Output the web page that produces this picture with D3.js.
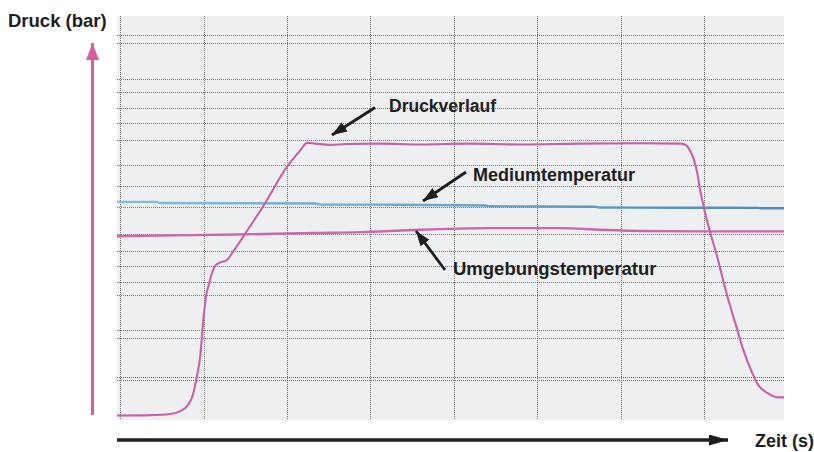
<!DOCTYPE html>
<html>
<head>
<meta charset="utf-8">
<script src="https://cdn.jsdelivr.net/npm/d3@7"></script>
<style>
  body { margin: 0; background: #fff; }
  svg { display: block; }
  .label { font-family: "Liberation Sans", Arial, sans-serif; font-weight: bold; fill: #1e1e1e; }
</style>
</head>
<body>
<div id="chart"></div>
<script>
// time (s) and readings in arbitrary chart units (0..100 = bottom..top)
const druckT = [-0.04, 0.36, 0.60, 0.72, 0.81, 0.87, 0.91, 0.96, 0.99, 1.03, 1.06, 1.10, 1.14, 1.20, 1.28, 1.35, 1.50, 1.71, 2.00, 2.16, 2.24, 2.34, 2.52, 2.70, 3.11, 3.59, 4.19, 4.79, 5.51, 6.23, 6.71, 6.77, 6.83, 6.88, 6.92, 6.95, 7.00, 7.07, 7.15, 7.26, 7.40, 7.46, 7.58, 7.65, 7.76, 7.88, 7.96];
const druckV = [1.1, 1.2, 1.5, 2.2, 3.7, 6.2, 9.9, 16.1, 23.5, 30.9, 33.4, 36.4, 38.2, 39.0, 39.6, 41.6, 46.2, 52.8, 62.7, 66.8, 68.6, 68.4, 68.1, 68.3, 68.4, 68.2, 68.4, 68.2, 68.4, 68.5, 68.4, 68.2, 66.8, 64.4, 61.1, 57.4, 52.5, 46.8, 41.1, 32.2, 22.3, 18.1, 11.6, 8.7, 6.7, 5.6, 5.6];

const mediumT = [-0.04, 0.42, 0.48, 2.34, 2.42, 3.11, 4.37, 4.43, 5.69, 5.75, 7.65, 7.69, 7.96];
const mediumV = [54.0, 54.0, 53.7, 53.6, 53.3, 53.3, 53.1, 52.9, 52.8, 52.6, 52.5, 52.4, 52.4];

const umgebungT = [-0.04, 0.27, 1.38, 2.34, 2.88, 3.36, 3.59, 4.43, 5.27, 5.75, 6.23, 6.95, 7.96];
const umgebungV = [45.5, 45.6, 45.9, 46.3, 46.5, 46.9, 47.1, 47.5, 47.5, 47.1, 46.8, 46.7, 46.7];

const xGrid = [0, 1, 2, 3, 4, 5, 6, 7];
const yGrid = [95.3, 93.2, 84.5, 81.3, 77.2, 73.6, 69.4, 63.1, 57.8, 52.6, 46.0, 41.8, 38.0, 34.2, 30.9, 22.4, 20.2, 10.6, 9.9];

const yTitle = 'Druck (bar)';
const xTitle = 'Zeit (s)';

const WIDTH = 814;
const HEIGHT = 452;
const PLOT = { left: 117, right: 784, top: 16, bottom: 420 };

const x = d3.scaleLinear().domain([-0.04, 7.96]).range([PLOT.left, PLOT.right]);
const y = d3.scaleLinear().domain([0, 100]).range([PLOT.bottom, PLOT.top]);

const svg = d3.select('#chart').append('svg')
  .attr('width', WIDTH)
  .attr('height', HEIGHT);

const defs = svg.append('defs');
function marker(id, len, half, color) {
  defs.append('marker')
    .attr('id', id)
    .attr('markerUnits', 'userSpaceOnUse')
    .attr('markerWidth', len)
    .attr('markerHeight', half * 2)
    .attr('refX', len)
    .attr('refY', half)
    .attr('orient', 'auto')
    .append('path')
    .attr('d', `M0,0 L${len},${half} L0,${half * 2} Z`)
    .attr('fill', color);
}
marker('head-black', 15, 5.5, '#1e1e1e');
marker('head-axis', 19, 5.5, '#1e1e1e');
marker('head-pink', 17, 6.5, '#d6609f');

const grad = defs.append('linearGradient')
  .attr('id', 'blue-grad')
  .attr('gradientUnits', 'userSpaceOnUse')
  .attr('x1', PLOT.left).attr('x2', PLOT.right)
  .attr('y1', 0).attr('y2', 0);
grad.append('stop').attr('offset', 0).attr('stop-color', '#86bce2');
grad.append('stop').attr('offset', 1).attr('stop-color', '#4e8cbc');

// plot background
svg.append('rect')
  .attr('x', PLOT.left)
  .attr('y', PLOT.top)
  .attr('width', PLOT.right - PLOT.left)
  .attr('height', PLOT.bottom - PLOT.top)
  .attr('fill', '#eeeff0');

// grid
const grid = svg.append('g').attr('class', 'grid')
  .attr('stroke', '#767676')
  .attr('stroke-width', 1)
  .attr('stroke-dasharray', '1,1');
grid.selectAll('line.h')
  .data(yGrid)
  .enter().append('line')
  .attr('class', 'h')
  .attr('x1', PLOT.left).attr('x2', PLOT.right)
  .attr('y1', d => Math.round(y(d)) + 0.5)
  .attr('y2', d => Math.round(y(d)) + 0.5);
grid.selectAll('line.v')
  .data(xGrid)
  .enter().append('line')
  .attr('class', 'v')
  .attr('y1', PLOT.top).attr('y2', PLOT.bottom)
  .attr('x1', d => Math.round(x(d)) + 0.5)
  .attr('x2', d => Math.round(x(d)) + 0.5);

// curves
const line = d3.line()
  .x(d => x(d[0]))
  .y(d => y(d[1]))
  .curve(d3.curveMonotoneX);

const series = [
  { t: mediumT, v: mediumV, color: 'url(#blue-grad)', w: 2.4 },
  { t: umgebungT, v: umgebungV, color: '#cc67a8', w: 2.4 },
  { t: druckT, v: druckV, color: '#c862a8', w: 2.1 }
];
svg.append('g').attr('class', 'lines')
  .selectAll('path')
  .data(series)
  .enter().append('path')
  .attr('d', d => line(d3.zip(d.t, d.v)))
  .attr('fill', 'none')
  .attr('stroke', d => d.color)
  .attr('stroke-width', d => d.w)
  .attr('stroke-linejoin', 'round');

// axis arrows
svg.append('line')
  .attr('x1', 92.5).attr('x2', 92.5)
  .attr('y1', 415).attr('y2', 43)
  .attr('stroke', '#d6609f')
  .attr('stroke-width', 3)
  .attr('marker-end', 'url(#head-pink)');

svg.append('line')
  .attr('x1', PLOT.left).attr('x2', 728)
  .attr('y1', 440).attr('y2', 440)
  .attr('stroke', '#1e1e1e')
  .attr('stroke-width', 3.5)
  .attr('marker-end', 'url(#head-axis)');

svg.append('text')
  .attr('class', 'label')
  .attr('x', 8).attr('y', 26.5)
  .attr('font-size', 18.5)
  .text(yTitle);

svg.append('text')
  .attr('class', 'label')
  .attr('x', 755).attr('y', 447)
  .attr('font-size', 18)
  .text(xTitle);

// annotations
const notes = [
  { text: 'Druckverlauf', tx: 389, ty: 111.5, size: 17.5, from: [375, 107.5], to: [332, 135] },
  { text: 'Mediumtemperatur', tx: 473, ty: 180.5, size: 18, from: [466, 172], to: [423, 201] },
  { text: 'Umgebungstemperatur', tx: 453, ty: 274.5, size: 18.5, from: [445, 270], to: [416, 231] }
];
const ann = svg.append('g').attr('class', 'annotations');
notes.forEach(n => {
  ann.append('line')
    .attr('x1', n.from[0]).attr('y1', n.from[1])
    .attr('x2', n.to[0]).attr('y2', n.to[1])
    .attr('stroke', '#1e1e1e')
    .attr('stroke-width', 2.8)
    .attr('marker-end', 'url(#head-black)');
  ann.append('text')
    .attr('class', 'label')
    .attr('x', n.tx).attr('y', n.ty)
    .attr('font-size', n.size)
    .text(n.text);
});
</script>
</body>
</html>
